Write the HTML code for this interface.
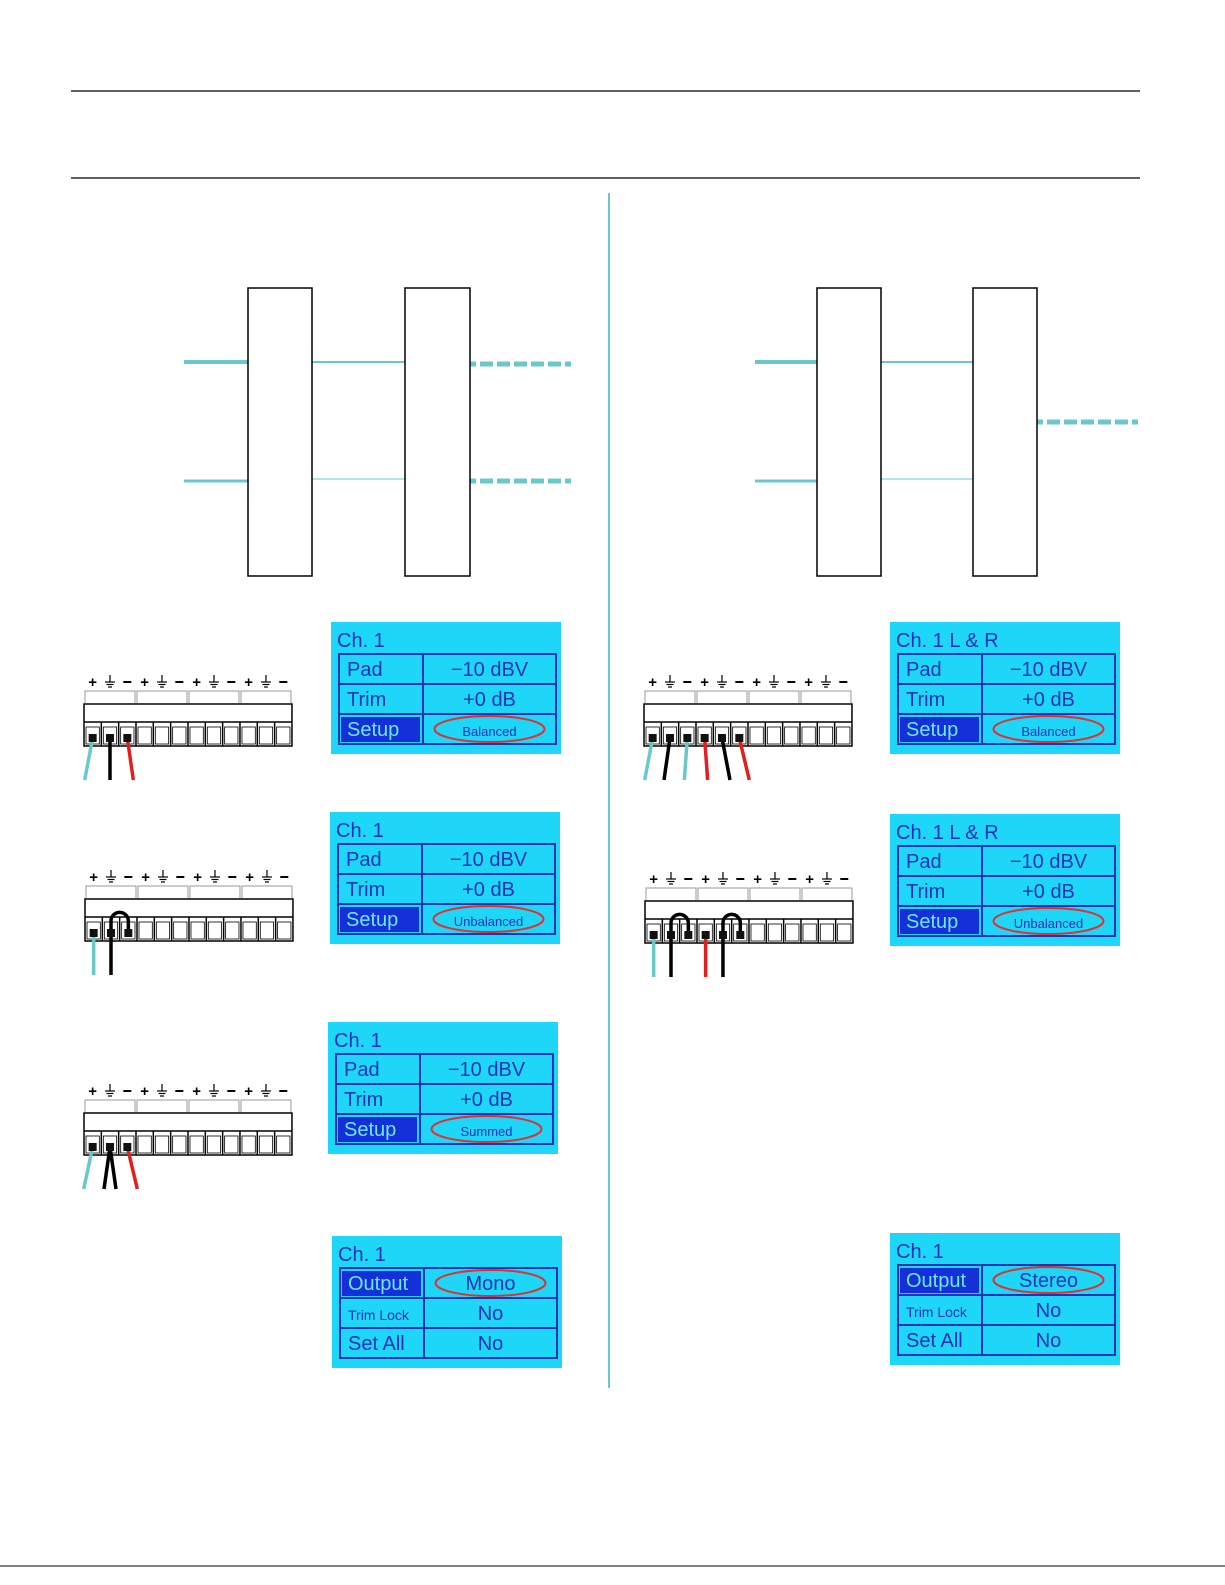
<!DOCTYPE html>
<html><head><meta charset="utf-8"><style>
html,body{margin:0;padding:0;background:#fff}
svg{display:block}
</style></head><body>
<svg id="s" width="1225" height="1585" xmlns="http://www.w3.org/2000/svg" font-family="Liberation Sans, sans-serif">
<line x1="71" y1="91" x2="1140" y2="91" stroke="#000" stroke-width="1.2"/>
<line x1="71" y1="178" x2="1140" y2="178" stroke="#000" stroke-width="1.2"/>
<line x1="609" y1="193" x2="609" y2="1388" stroke="#6cc8c8" stroke-width="2"/>
<line x1="0" y1="1566" x2="1225" y2="1566" stroke="#000" stroke-width="1"/>
<!-- left diagram -->
<g stroke="#6cc8c8" fill="none">
<line x1="184" y1="362" x2="248" y2="362" stroke-width="4"/>
<line x1="184" y1="481" x2="248" y2="481" stroke-width="3"/>
<line x1="312" y1="362" x2="405" y2="362" stroke-width="2"/>
<line x1="312" y1="479" x2="405" y2="479" stroke-width="1"/>
<line x1="470" y1="364" x2="571" y2="364" stroke-width="5" stroke-dasharray="6 4 13 4 13 4 13 4 13 4 13 4"/>
<line x1="470" y1="481" x2="571" y2="481" stroke-width="5" stroke-dasharray="6 4 13 4 13 4 13 4 13 4 13 4"/>
<line x1="755" y1="362" x2="817" y2="362" stroke-width="4"/>
<line x1="755" y1="481" x2="817" y2="481" stroke-width="3"/>
<line x1="881" y1="362" x2="973" y2="362" stroke-width="2"/>
<line x1="881" y1="479" x2="973" y2="479" stroke-width="1"/>
<line x1="1037" y1="422" x2="1140" y2="422" stroke-width="5" stroke-dasharray="6 4 13 4 13 4 13 4 13 4 13 4"/>
</g>
<g fill="#fff" stroke="#000" stroke-width="1.5">
<rect x="248" y="288" width="64" height="288"/>
<rect x="405" y="288" width="65" height="288"/>
<rect x="817" y="288" width="64" height="288"/>
<rect x="973" y="288" width="64" height="288"/>
</g>
<g id="dyn"></g>
</svg>
<script>
var NS="http://www.w3.org/2000/svg",g=document.getElementById('dyn'),h='';
var CW=17.33;
function tb(x,y,wires,arcs){
  var o='';
  var labs=['+','⏚','−'];
  for(var i=0;i<12;i++){
    var cx=x+CW*i+CW/2;
    var t=i%3;
    if(t==0)o+='<text x="'+cx+'" y="'+(y-17)+'" font-size="15" font-weight="bold" text-anchor="middle">+</text>';
    else if(t==2)o+='<line x1="'+(cx-4)+'" y1="'+(y-22)+'" x2="'+(cx+4)+'" y2="'+(y-22)+'" stroke="#000" stroke-width="2"/>';
    else{o+='<g stroke="#000" stroke-width="1.2"><line x1="'+cx+'" y1="'+(y-29)+'" x2="'+cx+'" y2="'+(y-22)+'"/><line x1="'+(cx-5)+'" y1="'+(y-22)+'" x2="'+(cx+5)+'" y2="'+(y-22)+'"/><line x1="'+(cx-3.5)+'" y1="'+(y-19.5)+'" x2="'+(cx+3.5)+'" y2="'+(y-19.5)+'"/><line x1="'+(cx-2)+'" y1="'+(y-17)+'" x2="'+(cx+2)+'" y2="'+(y-17)+'"/></g>';}
  }
  for(var k=0;k<4;k++){var bx=x+k*CW*3+1;o+='<path d="M'+bx+' '+(y-1)+'V'+(y-13)+'H'+(bx+CW*3-2)+'V'+(y-1)+'" fill="none" stroke="#999" stroke-width="1"/>';}
  o+='<rect x="'+x+'" y="'+y+'" width="'+(CW*12)+'" height="42" fill="#fff" stroke="#000" stroke-width="1.5"/>';
  o+='<line x1="'+x+'" y1="'+(y+18)+'" x2="'+(x+CW*12)+'" y2="'+(y+18)+'" stroke="#000" stroke-width="1.5"/>';
  for(var i=1;i<12;i++){var lx=x+CW*i;o+='<line x1="'+lx+'" y1="'+(y+18)+'" x2="'+lx+'" y2="'+(y+42)+'" stroke="#000" stroke-width="1.5"/>';}
  for(var i=0;i<12;i++){o+='<rect x="'+(x+CW*i+2)+'" y="'+(y+23)+'" width="'+(CW-4)+'" height="17" fill="none" stroke="#000" stroke-width="0.8"/>';}
  (arcs||[]).forEach(function(a){var x1=x+CW*a+CW/2,x2=x1+CW;o+='<path d="M'+x1+' '+(y+33)+'V'+(y+22)+'A'+(CW/2)+' '+(CW/2)+' 0 0 1 '+x2+' '+(y+22)+'V'+(y+33)+'" fill="none" stroke="#000" stroke-width="3.5"/>';});
  (wires||[]).forEach(function(w){var cx=x+CW*w[0]+CW/2;o+='<line x1="'+cx+'" y1="'+(y+34)+'" x2="'+(cx+w[1])+'" y2="'+(y+76)+'" stroke="'+w[2]+'" stroke-width="3.5"/>';});
  var used={};(wires||[]).forEach(function(w){used[w[0]]=1});(arcs||[]).forEach(function(a){used[a]=1;used[a+1]=1});
  for(var c in used){o+='<rect x="'+(x+CW*c+CW/2-4)+'" y="'+(y+30)+'" width="8" height="8" fill="#111"/>';}
  return o;
}
var T='#6cc8c8',K='#000',R='#e02020';
h+=tb(84,704,[[0,-8,T],[1,0,K],[2,6,R]]);
h+=tb(85,899,[[0,0,T],[1,0,K]],[1]);
h+=tb(84,1113,[[0,-9,T],[1,-6,K],[1,6,K],[2,10,R]]);
h+=tb(644,704,[[0,-8,T],[1,-6,K],[2,-3,T],[3,3,R],[4,8,K],[5,10,R]]);
h+=tb(645,901,[[0,0,T],[1,0,K],[3,0,R],[4,0,K]],[1,4]);
var F='font-family="Liberation Sans Narrow, Liberation Sans, sans-serif"';
function lcd(x,y,title,rows,sel,ov){
  var w=230,hh=132,o='',B='#1f33b8';
  o+='<rect x="'+x+'" y="'+y+'" width="'+w+'" height="'+hh+'" fill="#1ed6f8"/>';
  o+='<text x="'+(x+6)+'" y="'+(y+25)+'" font-size="20" fill="'+B+'" '+F+'>'+title+'</text>';
  var tx=x+8,ty=y+32,tw=217,rh=30,cs=x+92;
  o+='<rect x="'+(x+10)+'" y="'+(ty+rh*sel+3)+'" width="'+(cs-x-13)+'" height="'+(rh-5)+'" fill="#1530d8"/>';
  o+='<rect x="'+tx+'" y="'+ty+'" width="'+tw+'" height="'+(rh*3)+'" fill="none" stroke="'+B+'" stroke-width="2"/>';
  o+='<line x1="'+tx+'" y1="'+(ty+rh)+'" x2="'+(tx+tw)+'" y2="'+(ty+rh)+'" stroke="'+B+'" stroke-width="2"/>';
  o+='<line x1="'+tx+'" y1="'+(ty+2*rh)+'" x2="'+(tx+tw)+'" y2="'+(ty+2*rh)+'" stroke="'+B+'" stroke-width="2"/>';
  o+='<line x1="'+cs+'" y1="'+ty+'" x2="'+cs+'" y2="'+(ty+3*rh)+'" stroke="'+B+'" stroke-width="2"/>';
  var vc=(cs+tx+tw)/2;
  rows.forEach(function(r,i){
    var by=ty+rh*i+22;
    var fs=r[2]||20;
    o+='<text x="'+(x+16)+'" y="'+by+'" font-size="'+fs+'" fill="'+(i==sel?'#6ce8ff':B)+'" '+F+'>'+r[0]+'</text>';
    o+='<text x="'+vc+'" y="'+by+'" font-size="'+(r[3]||20)+'" text-anchor="middle" fill="'+B+'" '+F+'>'+r[1]+'</text>';
  });
  o+='<ellipse cx="'+vc+'" cy="'+(ty+rh*ov+rh/2)+'" rx="55" ry="13" fill="none" stroke="#e03030" stroke-width="2"/>';
  return o;
}
h+=lcd(331,622,'Ch. 1',[['Pad','−10 dBV'],['Trim','+0 dB'],['Setup','Balanced',20,13]],2,2);
h+=lcd(330,812,'Ch. 1',[['Pad','−10 dBV'],['Trim','+0 dB'],['Setup','Unbalanced',20,13]],2,2);
h+=lcd(328,1022,'Ch. 1',[['Pad','−10 dBV'],['Trim','+0 dB'],['Setup','Summed',20,13]],2,2);
h+=lcd(332,1236,'Ch. 1',[['Output','Mono'],['Trim Lock','No',14],['Set All','No']],0,0);
h+=lcd(890,622,'Ch. 1 L &amp; R',[['Pad','−10 dBV'],['Trim','+0 dB'],['Setup','Balanced',20,13]],2,2);
h+=lcd(890,814,'Ch. 1 L &amp; R',[['Pad','−10 dBV'],['Trim','+0 dB'],['Setup','Unbalanced',20,13]],2,2);
h+=lcd(890,1233,'Ch. 1',[['Output','Stereo'],['Trim Lock','No',14],['Set All','No']],0,0);
g.innerHTML=h;
</script>
</body></html>
